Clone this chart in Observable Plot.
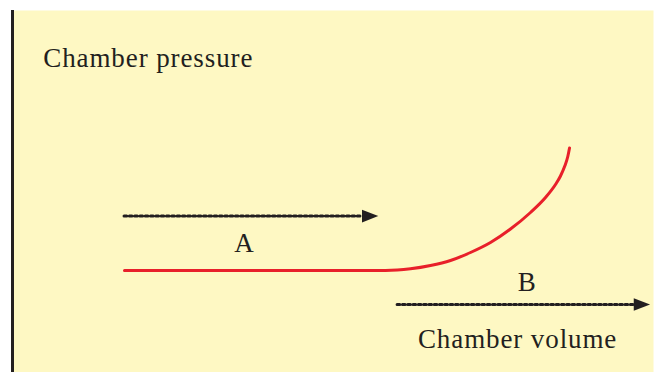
<!DOCTYPE html>
<html>
<head>
<meta charset="utf-8">
<script src="https://cdn.jsdelivr.net/npm/d3@7"></script>
<script src="https://cdn.jsdelivr.net/npm/@observablehq/plot@0.6"></script>
<style>
  html, body { margin: 0; padding: 0; background: #fff; }
  svg { display: block; }
</style>
</head>
<body>
<div id="chart"></div>
<script>
// Pressure–volume curve (arbitrary units, 0–100)
const curveVolume   = [17.47, 58.19, 62.09, 65.21, 68.33, 71.45, 74.57, 77.69, 80.81, 83.15, 84.71, 85.49, 86.16, 86.63, 86.90];
const curvePressure = [28.18, 28.18, 28.65, 29.56, 30.94, 33.15, 35.91, 39.64, 44.20, 48.34, 51.93, 54.28, 57.02, 59.67, 62.02];

// Dotted arrows A and B
const arrowNames  = ["A", "B"];
const arrowStart  = [17.4, 60.0];
const arrowEnd    = [54.6, 97.0];
const arrowLevel  = [43.2, 18.8];

// Text labels
const labelTexts  = ["Chamber pressure", "A", "B", "Chamber volume"];
const labelX      = [4.8, 36.2, 80.3, 78.8];
const labelY      = [86.9, 35.8, 24.8, 9.1];
const labelAnchor = ["start", "middle", "middle", "middle"];

const curve = curveVolume.map((v, i) => ({volume: v, pressure: curvePressure[i]}));
const arrowSegs = arrowNames.flatMap((n, i) => [
  {name: n, volume: arrowStart[i], pressure: arrowLevel[i]},
  {name: n, volume: arrowEnd[i], pressure: arrowLevel[i]}
]);
const arrowHeads = arrowNames.map((n, i) => ({name: n, volume: arrowEnd[i], pressure: arrowLevel[i]}));
const labels = labelTexts.map((t, i) => ({text: t, volume: labelX[i], pressure: labelY[i], anchor: labelAnchor[i]}));

// Filled arrowhead pointing right, base at the symbol origin
const headSymbol = {
  draw(context, size) {
    context.moveTo(-0.5, -6.3);
    context.lineTo(15.8, 0);
    context.lineTo(-0.5, 6.3);
    context.closePath();
  }
};

const ink = "#231f20";
const font = "Liberation Serif";

const chart = Plot.plot({
  width: 654,
  height: 372,
  marginTop: 10,
  marginLeft: 12,
  marginRight: 1,
  marginBottom: 0,
  x: {domain: [0, 100], axis: null},
  y: {domain: [0, 100], axis: null},
  style: {background: "#ffffff", fontFamily: font},
  marks: [
    Plot.frame({fill: "#fef8c3", stroke: null}),
    Plot.ruleX([0], {stroke: ink, strokeWidth: 3}),
    Plot.line(curve, {x: "volume", y: "pressure", curve: "monotone-x", stroke: "#e8202a", strokeWidth: 3}),
    Plot.line(arrowSegs, {x: "volume", y: "pressure", z: "name", stroke: ink, strokeWidth: 3, strokeDasharray: "2.7 2.6"}),
    Plot.dot(arrowHeads, {x: "volume", y: "pressure", symbol: headSymbol, fill: ink, stroke: null, r: 5}),
    Plot.text(labels.filter(d => d.anchor === "start"), {x: "volume", y: "pressure", text: "text", textAnchor: "start", fontSize: 27, fill: ink, fontFamily: font}),
    Plot.text(labels.filter(d => d.anchor === "middle"), {x: "volume", y: "pressure", text: "text", textAnchor: "middle", fontSize: 27, fill: ink, fontFamily: font})
  ]
});
d3.select(chart).selectAll("text").attr("letter-spacing", "0.9px");
document.getElementById("chart").appendChild(chart);
</script>
</body>
</html>
